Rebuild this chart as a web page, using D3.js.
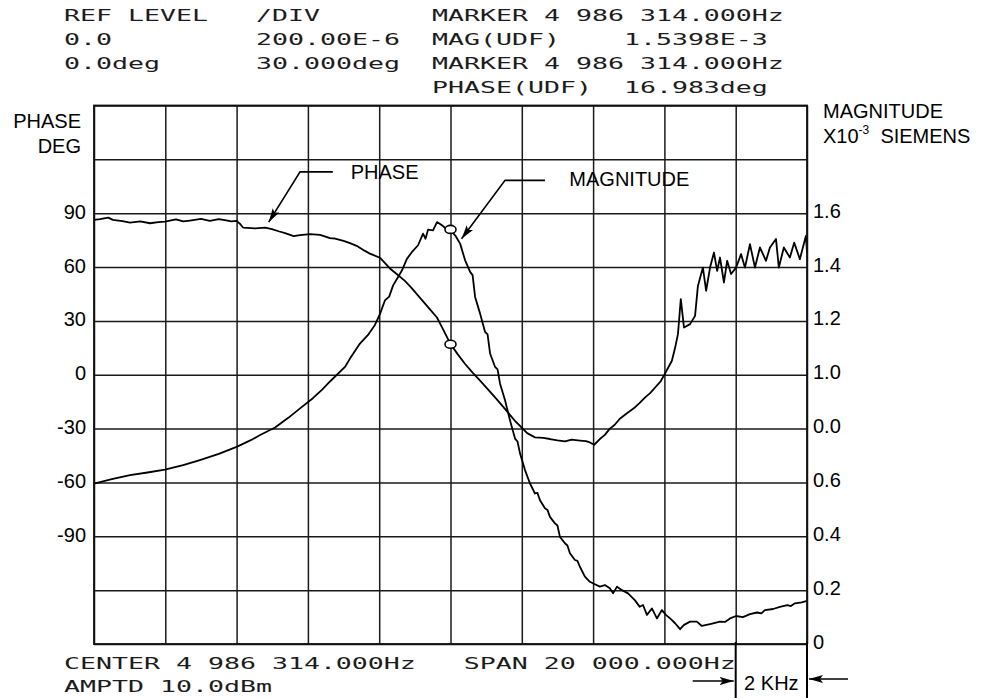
<!DOCTYPE html>
<html>
<head>
<meta charset="utf-8">
<script src="https://cdn.jsdelivr.net/npm/d3@7"></script>
<style>
  body { margin: 0; background: #fff; }
  svg { display: block; }
  .plotter { font-family: "DejaVu Sans Mono", monospace; font-size: 16.5px; fill: #1c1c1c; white-space: pre; }
  .lbl { font-family: "Liberation Sans", Arial, sans-serif; font-size: 20px; fill: #000; }
</style>
</head>
<body>
<div id="chart"></div>
<script>
//phase trace: [frequency offset from centre (kHz), phase (deg)]
var phaseData = [
    [-10, 86.3], [-9.83, 86.7], [-9.6, 87.5], [-9.47, 86.3], [-9.2, 85.6], [-8.99, 84.8], [-8.7, 85.5],
    [-8.43, 84.4], [-8.2, 85.0], [-8.01, 85.3], [-7.7, 86.5], [-7.5, 85.4], [-7.31, 85.9], [-7.0, 86.8],
    [-6.75, 85.7], [-6.5, 86.7], [-6.33, 86.1], [-6.15, 85.4], [-6.0, 85.7], [-5.9, 84.0], [-5.82, 82],
    [-5.48, 81.6], [-5.2, 82], [-5.01, 81.1], [-4.8, 79.8], [-4.64, 78.9], [-4.4, 77.2], [-4.22, 77.8],
    [-3.94, 78.3], [-3.66, 77.9], [-3.38, 76.1], [-3.24, 75.9], [-3.0, 74.6], [-2.82, 73.3], [-2.6, 71.5],
    [-2.40, 69], [-2.26, 67.5], [-1.98, 65.2], [-1.70, 59.2], [-1.5, 56.0], [-1.28, 52.3], [-1.1, 48.5],
    [-0.86, 43], [-0.6, 37.0], [-0.38, 31.9], [-0.2, 25.0], [0, 17.1], [0.2, 11.5], [0.41, 6],
    [0.62, 1.2], [0.83, -3.3], [1.05, -8.2], [1.25, -12.6], [1.45, -17.2], [1.61, -21], [1.8, -25.5],
    [1.95, -28.5], [2.15, -32.5], [2.37, -34.9], [2.6, -35.2], [2.79, -35.8], [3.0, -36.6], [3.21, -37.1],
    [3.4, -36.2], [3.63, -36.7], [3.8, -37.0], [3.91, -37.7], [4.03, -39], [4.19, -35.8], [4.33, -33.5],
    [4.47, -30], [4.6, -28.0], [4.75, -24.5], [4.95, -21.5], [5.17, -18.2], [5.3, -15.8], [5.46, -12.6],
    [5.6, -10.2], [5.74, -7.1], [5.9, -3.5], [6.01, 0.4], [6.21, 7.8], [6.3, 15.0], [6.38, 22.6],
    [6.46, 42.1], [6.55, 26.3], [6.72, 28.2], [6.86, 32.8], [6.94, 49.5], [7.08, 59.7], [7.17, 46.8],
    [7.28, 59.7], [7.39, 68.1], [7.48, 57.9], [7.56, 65.3], [7.67, 51.4], [7.76, 63.5], [7.87, 56.1],
    [8.01, 59.7], [8.15, 67.2], [8.26, 59.7], [8.40, 72.8], [8.54, 59.7], [8.68, 70.9], [8.85, 63.5],
    [8.96, 70.9], [9.13, 75.6], [9.21, 59.7], [9.35, 70.9], [9.52, 65.3], [9.64, 73.6], [9.80, 64.4],
    [9.97, 77.4], [10, 68.1]
];

//magnitude trace: [frequency offset from centre (kHz), magnitude (x10^-3 S)]
var magData = [
    [-10, 0.596], [-9.5, 0.612], [-8.99, 0.627], [-8.5, 0.637], [-8.01, 0.648], [-7.5, 0.664],
    [-7.03, 0.683], [-6.5, 0.706], [-6.0, 0.732], [-5.6, 0.757], [-5.34, 0.776], [-4.92, 0.804],
    [-4.55, 0.840], [-4.22, 0.875], [-3.86, 0.913], [-3.6, 0.945], [-3.38, 0.975], [-2.96, 1.029],
    [-2.82, 1.06], [-2.54, 1.116], [-2.3, 1.150], [-2.12, 1.185], [-1.98, 1.225], [-1.84, 1.276],
    [-1.72, 1.290], [-1.61, 1.332], [-1.47, 1.363], [-1.36, 1.388], [-1.22, 1.431], [-1.08, 1.456],
    [-0.91, 1.481], [-0.77, 1.524], [-0.70, 1.505], [-0.63, 1.539], [-0.49, 1.536], [-0.38, 1.567],
    [-0.24, 1.555], [-0.13, 1.543], [0, 1.536], [0.13, 1.518], [0.27, 1.487], [0.41, 1.425],
    [0.55, 1.382], [0.62, 1.370], [0.69, 1.289], [0.83, 1.227], [0.97, 1.159], [1.04, 1.150],
    [1.11, 1.079], [1.25, 1.029], [1.32, 1.020], [1.39, 0.967], [1.53, 0.905], [1.67, 0.83],
    [1.81, 0.763], [1.88, 0.752], [1.95, 0.708], [2.09, 0.646], [2.23, 0.596], [2.37, 0.559],
    [2.44, 0.561], [2.51, 0.534], [2.65, 0.504], [2.72, 0.498], [2.79, 0.472], [2.93, 0.448],
    [3.0, 0.440], [3.07, 0.398], [3.21, 0.374], [3.28, 0.366], [3.35, 0.337], [3.49, 0.312],
    [3.56, 0.309], [3.63, 0.287], [3.77, 0.25], [3.91, 0.231], [4.05, 0.222], [4.19, 0.213],
    [4.33, 0.219], [4.47, 0.207], [4.56, 0.188], [4.67, 0.213], [4.81, 0.2], [4.98, 0.188],
    [5.17, 0.163], [5.31, 0.138], [5.40, 0.145], [5.51, 0.108], [5.65, 0.132], [5.79, 0.095],
    [5.93, 0.126], [6.04, 0.108], [6.16, 0.095], [6.30, 0.077], [6.44, 0.055], [6.55, 0.071],
    [6.72, 0.083], [6.91, 0.083], [7.05, 0.067], [7.28, 0.074], [7.56, 0.083], [7.70, 0.082],
    [7.84, 0.095], [8.01, 0.104], [8.20, 0.100], [8.40, 0.111], [8.60, 0.117], [8.72, 0.114],
    [8.82, 0.126], [9.05, 0.130], [9.24, 0.138], [9.45, 0.144], [9.55, 0.141], [9.66, 0.151],
    [9.85, 0.155], [10, 0.16]
];

//axis ticks
var freqGrid = [-10, -8, -6, -4, -2, 0, 2, 4, 6, 8, 10];
var phaseGrid = [-150, -120, -90, -60, -30, 0, 30, 60, 90, 120, 150];
var phaseTicks = [90, 60, 30, 0, -30, -60, -90];
var magTicks = [1.6, 1.4, 1.2, 1.0, 0.8, 0.6, 0.4, 0.2, 0];
var magTickLabels = ["1.6", "1.4", "1.2", "1.0", "0.0", "0.6", "0.4", "0.2", "0"];

//marker readout
var markerFreq = 0;
var markerMag = 1.5398;
var markerPhase = 16.983;

//analyzer readout text
var headerRows = [
    ["REF LEVEL", "/DIV", "MARKER 4 986 314.000Hz"],
    ["0.0", "200.00E-6", "MAG(UDF)    1.5398E-3"],
    ["0.0deg", "30.000deg", "MARKER 4 986 314.000Hz"],
    ["", "", "PHASE(UDF)  16.983deg"]
];
var footerRows = ["CENTER 4 986 314.000Hz   SPAN 20 000.000Hz", "AMPTD 10.0dBm"];

//svg and plot dimensions
var svgWidth = 982;
var svgHeight = 698;
var plot = { left: 94, top: 105.5, right: 807, bottom: 644 };
var width = plot.right - plot.left;
var height = plot.bottom - plot.top;

var svg = d3.select("#chart").append("svg")
    .attr("width", svgWidth)
    .attr("height", svgHeight);

var defs = svg.append("defs");
defs.append("marker")
    .attr("id", "arrow")
    .attr("markerUnits", "userSpaceOnUse")
    .attr("viewBox", "0 0 14 8")
    .attr("refX", 14)
    .attr("refY", 4)
    .attr("markerWidth", 14)
    .attr("markerHeight", 8)
    .attr("orient", "auto")
    .append("path")
    .attr("d", "M0,0 L14,4 L0,8 L3,4 Z")
    .attr("fill", "#000");

//scales
var x = d3.scaleLinear().domain([-10, 10]).range([0, width]);
var yPhase = d3.scaleLinear().domain([-150, 150]).range([height, 0]);
var yMag = d3.scaleLinear().domain([0, 2]).range([height, 0]);

var chartGroup = svg.append("g")
    .attr("transform", `translate(${plot.left}, ${plot.top})`);

//vertical grid
chartGroup.append("g")
    .attr("class", "grid")
    .attr("transform", `translate(0, ${height})`)
    .call(d3.axisBottom(x).tickValues(freqGrid).tickSize(-height).tickFormat(""));

//horizontal grid
chartGroup.append("g")
    .attr("class", "grid")
    .call(d3.axisLeft(yPhase).tickValues(phaseGrid).tickSize(-width).tickFormat(""));

chartGroup.selectAll(".grid .domain").remove();
chartGroup.selectAll(".grid line")
    .attr("stroke", "#1a1a1a")
    .attr("stroke-width", 1.5);

//left phase labels (plain hyphen for negatives)
var leftAxis = chartGroup.append("g")
    .call(d3.axisLeft(yPhase).tickValues(phaseTicks).tickSize(0).tickPadding(8)
        .tickFormat(d => String(d)));
leftAxis.select(".domain").remove();
leftAxis.selectAll("text")
    .attr("class", "lbl")
    .attr("dy", "0.25em");
leftAxis.attr("font-size", null).attr("font-family", null);

//right magnitude labels
var rightAxis = chartGroup.append("g")
    .attr("transform", `translate(${width}, 0)`)
    .call(d3.axisRight(yMag).tickValues(magTicks).tickSize(0).tickPadding(6)
        .tickFormat(d => magTickLabels[magTicks.indexOf(d)]));
rightAxis.select(".domain").remove();
rightAxis.selectAll("text")
    .attr("class", "lbl")
    .attr("dy", "0.2em");
rightAxis.attr("font-size", null).attr("font-family", null);

//traces
var phaseLine = d3.line().x(d => x(d[0])).y(d => yPhase(d[1]));
var magLine = d3.line().x(d => x(d[0])).y(d => yMag(d[1]));

chartGroup.append("path")
    .datum(phaseData)
    .attr("d", phaseLine)
    .attr("fill", "none")
    .attr("stroke", "#000")
    .attr("stroke-width", 1.8)
    .attr("stroke-linejoin", "round");

chartGroup.append("path")
    .datum(magData)
    .attr("d", magLine)
    .attr("fill", "none")
    .attr("stroke", "#000")
    .attr("stroke-width", 1.8)
    .attr("stroke-linejoin", "round");

//plot border
chartGroup.append("rect")
    .attr("width", width)
    .attr("height", height)
    .attr("fill", "none")
    .attr("stroke", "#111")
    .attr("stroke-width", 1.8);

//marker circles
chartGroup.append("ellipse")
    .attr("cx", x(markerFreq))
    .attr("cy", yMag(markerMag))
    .attr("rx", 5.5).attr("ry", 4)
    .attr("fill", "#fff").attr("stroke", "#000").attr("stroke-width", 1.6);
chartGroup.append("ellipse")
    .attr("cx", x(markerFreq))
    .attr("cy", yPhase(markerPhase))
    .attr("rx", 5.5).attr("ry", 4)
    .attr("fill", "#fff").attr("stroke", "#000").attr("stroke-width", 1.6);

//trace annotations
chartGroup.append("polyline")
    .attr("points", [[x(-3.3), yPhase(113)], [x(-4.22), yPhase(113)], [x(-5.1), yPhase(85)]].join(" "))
    .attr("fill", "none").attr("stroke", "#000").attr("stroke-width", 1.6)
    .attr("marker-end", "url(#arrow)");
chartGroup.append("text")
    .attr("class", "lbl")
    .attr("x", x(-2.8))
    .attr("y", yPhase(109))
    .text("PHASE");

chartGroup.append("polyline")
    .attr("points", [[x(2.65), yMag(1.722)], [x(1.53), yMag(1.722)], [x(0.31), yMag(1.505)]].join(" "))
    .attr("fill", "none").attr("stroke", "#000").attr("stroke-width", 1.6)
    .attr("marker-end", "url(#arrow)");
chartGroup.append("text")
    .attr("class", "lbl")
    .attr("text-anchor", "end")
    .attr("x", x(6.7))
    .attr("y", yMag(1.70))
    .text("MAGNITUDE");

//2 KHz per division bracket
var bracket = chartGroup.append("g").attr("stroke", "#000").attr("stroke-width", 2);
[8, 10].forEach(function(f) {
    bracket.append("line")
        .attr("x1", x(f)).attr("x2", x(f))
        .attr("y1", height - 2).attr("y2", svgHeight - plot.top);
});
chartGroup.append("line")
    .attr("x1", x(8) - 43).attr("x2", x(8) - 2)
    .attr("y1", height + 37).attr("y2", height + 37)
    .attr("stroke", "#000").attr("stroke-width", 1.6)
    .attr("marker-end", "url(#arrow)");
chartGroup.append("line")
    .attr("x1", x(10) + 41).attr("x2", x(10) + 2)
    .attr("y1", height + 35).attr("y2", height + 35)
    .attr("stroke", "#000").attr("stroke-width", 1.6)
    .attr("marker-end", "url(#arrow)");
chartGroup.append("text")
    .attr("class", "lbl")
    .attr("text-anchor", "middle")
    .attr("x", (x(8) + x(10)) / 2)
    .attr("y", height + 46)
    .text("2 KHz");

//axis titles
svg.append("text").attr("class", "lbl").attr("text-anchor", "end")
    .attr("x", 81).attr("y", 128).text("PHASE");
svg.append("text").attr("class", "lbl").attr("text-anchor", "end")
    .attr("x", 81).attr("y", 153).text("DEG");
svg.append("text").attr("class", "lbl")
    .attr("x", 823).attr("y", 118).text("MAGNITUDE");
var siemens = svg.append("text").attr("class", "lbl")
    .attr("x", 823).attr("y", 143);
siemens.append("tspan").text("X10");
siemens.append("tspan").attr("font-size", "12px").attr("dy", -9).text("-3");
siemens.append("tspan").attr("dy", 9).text("\u00a0 SIEMENS");

//plotter readout text, monospaced on a 16px cell
var cell = 16;
var xStart = 64;
var stretch = cell / (0.6021 * 16.5);
var colCells = [0, 12, 23];

headerRows.forEach(function(row, r) {
    row.forEach(function(txt, c) {
        if (!txt) return;
        svg.append("text")
            .attr("class", "plotter")
            .attr("transform", `translate(${xStart + colCells[c] * cell}, ${21 + r * 24}) scale(${stretch}, 1)`)
            .text(txt);
    });
});

footerRows.forEach(function(txt, r) {
    svg.append("text")
        .attr("class", "plotter")
        .attr("transform", `translate(${xStart}, ${669 + r * 23}) scale(${stretch}, 1)`)
        .text(txt);
});
</script>
</body>
</html>
